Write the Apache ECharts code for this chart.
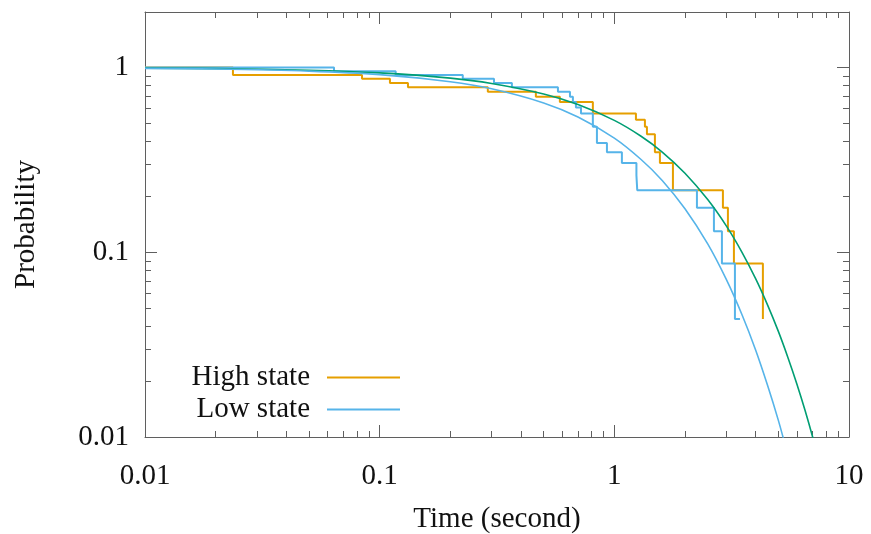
<!DOCTYPE html>
<html>
<head>
<meta charset="utf-8">
<script src="https://cdn.jsdelivr.net/npm/echarts@6/dist/echarts.min.js"></script>
<style>
  html, body { margin: 0; padding: 0; background: #ffffff; }
  #chart { width: 871px; height: 534px; }
</style>
</head>
<body>
<div id="chart"></div>
<script>
// Survival curves: event time (s) and fraction still surviving after that event
const highT = [0.01, 0.0237, 0.0841, 0.1106, 0.132, 0.289, 0.463, 0.586, 0.810, 1.236, 1.350, 1.377, 1.489, 1.564, 1.777, 2.902, 3.048, 3.233, 4.296];
const highP = [1, 0.913, 0.870, 0.826, 0.783, 0.739, 0.696, 0.652, 0.565, 0.522, 0.478, 0.435, 0.348, 0.304, 0.217, 0.174, 0.130, 0.087, 0.0435];

const lowT = [0.01, 0.0639, 0.117, 0.226, 0.307, 0.366, 0.575, 0.647, 0.666, 0.686, 0.721, 0.810, 0.843, 0.930, 1.077, 1.242, 1.252, 2.249, 2.657, 2.874, 3.265, 3.43];
const lowP = [1, 0.957, 0.913, 0.870, 0.826, 0.783, 0.739, 0.696, 0.652, 0.609, 0.565, 0.478, 0.391, 0.348, 0.304, 0.261, 0.217, 0.174, 0.130, 0.087, 0.0435, 0.0435];

// Fitted model curves
const highFitT = [0.01, 0.02, 0.05, 0.1, 0.2, 0.3, 0.5, 0.7, 1, 1.3, 1.6, 2, 2.5, 3, 3.5, 4, 4.5, 5, 5.5, 6, 6.5, 7, 7.5];
const highFitP = [0.993, 0.987, 0.968, 0.936, 0.877, 0.821, 0.720, 0.631, 0.518, 0.425, 0.349, 0.268, 0.193, 0.139, 0.100, 0.0720, 0.0518, 0.0373, 0.0268, 0.0193, 0.0139, 0.0100, 0.0072];

const lowFitT = [0.01, 0.02, 0.05, 0.1, 0.2, 0.3, 0.5, 0.7, 1, 1.3, 1.6, 2, 2.5, 3, 3.5, 4, 4.5, 5, 5.5];
const lowFitP = [0.991, 0.983, 0.957, 0.916, 0.839, 0.768, 0.644, 0.540, 0.415, 0.318, 0.245, 0.172, 0.111, 0.0713, 0.0459, 0.0296, 0.0190, 0.0123, 0.0079];

// Axis ticks
const xMajor = [0.01, 0.1, 1, 10];
const xMinor = [0.02, 0.03, 0.04, 0.05, 0.06, 0.07, 0.08, 0.09, 0.2, 0.3, 0.4, 0.5, 0.6, 0.7, 0.8, 0.9, 2, 3, 4, 5, 6, 7, 8, 9];
const yMajor = [0.01, 0.1, 1];
const yMinor = [0.02, 0.03, 0.04, 0.05, 0.06, 0.07, 0.08, 0.09, 0.2, 0.3, 0.4, 0.5, 0.6, 0.7, 0.8, 0.9];

const FONT = '"Liberation Serif", "Times New Roman", serif';
const FRAME = '#5f5f5f';
const TEXT = '#111111';
const FS = 29;

const zip = (xs, ys) => xs.map((x, i) => [x, ys[i]]);

function axis(dim, position, ticks, len, opts) {
  const isMain = opts && opts.main;
  const a = {
    type: 'log',
    logBase: 10,
    position: position,
    min: 0.01,
    max: dim === 'x' ? 10 : 2,
    axisLine: { show: !!(opts && opts.line), lineStyle: { color: FRAME, width: 1 } },
    axisTick: { show: true, inside: true, length: len, customValues: ticks, lineStyle: { color: FRAME, width: 1 } },
    axisLabel: { show: false },
    splitLine: { show: false },
    minorTick: { show: false },
    minorSplitLine: { show: false }
  };
  if (isMain) {
    a.axisLabel = {
      show: true,
      customValues: ticks,
      formatter: v => String(v),
      fontFamily: FONT, fontSize: FS, color: TEXT,
      margin: opts.margin
    };
    a.name = opts.name;
    a.nameLocation = 'middle';
    a.nameGap = opts.nameGap;
    a.nameTextStyle = { fontFamily: FONT, fontSize: FS, color: TEXT };
  }
  return a;
}

const chart = echarts.init(document.getElementById('chart'), null, { renderer: 'canvas' });

chart.setOption({
  animation: false,
  backgroundColor: '#ffffff',
  grid: { left: 145, right: 22, top: 12, bottom: 97, containLabel: false, outerBoundsMode: 'none' },
  xAxis: [
    axis('x', 'bottom', xMajor, 12, { main: true, line: true, margin: 25, name: 'Time (second)', nameGap: 68 }),
    axis('x', 'bottom', xMinor, 6),
    axis('x', 'top', xMajor, 12, { line: true }),
    axis('x', 'top', xMinor, 6)
  ],
  yAxis: [
    axis('y', 'left', yMajor, 12, { main: true, line: true, margin: 16, name: 'Probability', nameGap: 104 }),
    axis('y', 'left', yMinor, 6),
    axis('y', 'right', yMajor, 12, { line: true }),
    axis('y', 'right', yMinor, 6)
  ],
  legend: {
    data: ['High state', 'Low state'],
    orient: 'vertical',
    align: 'right',
    right: 466,
    top: 358,
    icon: 'rect',
    itemWidth: 73,
    itemHeight: 2,
    itemGap: 3,
    selectedMode: false,
    textStyle: { fontFamily: FONT, fontSize: FS, color: TEXT, padding: [0, 12, 0, 0] }
  },
  series: [
    {
      name: 'High state', type: 'line', step: 'end', symbol: 'none',
      xAxisIndex: 0, yAxisIndex: 0,
      lineStyle: { color: '#E69F00', width: 2 }, itemStyle: { color: '#E69F00' },
      data: zip(highT, highP)
    },
    {
      name: 'Low state', type: 'line', step: 'end', symbol: 'none',
      xAxisIndex: 0, yAxisIndex: 0,
      lineStyle: { color: '#56B4E9', width: 2 }, itemStyle: { color: '#56B4E9' },
      data: zip(lowT, lowP)
    },
    {
      name: 'High fit', type: 'line', symbol: 'none', smooth: 0.3,
      xAxisIndex: 0, yAxisIndex: 0,
      lineStyle: { color: '#009E73', width: 1.6 }, itemStyle: { color: '#009E73' },
      data: zip(highFitT, highFitP)
    },
    {
      name: 'Low fit', type: 'line', symbol: 'none', smooth: 0.3,
      xAxisIndex: 0, yAxisIndex: 0,
      lineStyle: { color: '#56B4E9', width: 1.6 }, itemStyle: { color: '#56B4E9' },
      data: zip(lowFitT, lowFitP)
    }
  ]
});
</script>
</body>
</html>
